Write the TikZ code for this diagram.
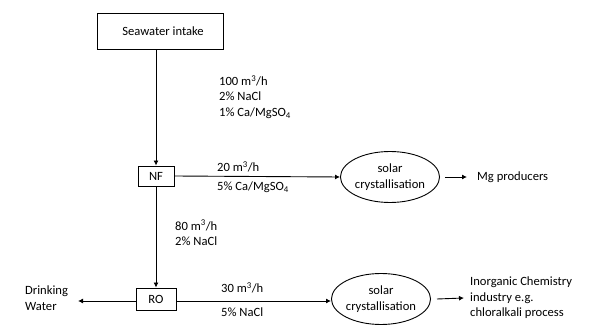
\documentclass[tikz,border=0pt]{standalone}
\usepackage{fontspec}
\setmainfont{Carlito}
\usetikzlibrary{arrows.meta,shapes.geometric}
\begin{document}
\begin{tikzpicture}[x=1pt,y=-1pt,
  every node/.style={font=\fontsize{12.6}{15.5}\selectfont},
  boxnode/.style={draw,line width=0.9pt,inner sep=0pt},
  ellnode/.style={draw,ellipse,line width=0.9pt,inner sep=0pt,minimum width=91pt,minimum height=51pt,align=center},
  lbl/.style={anchor=west,inner sep=0pt,align=left},
  conn/.style={line width=0.9pt,-{Latex[length=5pt,width=5pt]}}]
\useasboundingbox (0,0) rectangle (611,331);
\node[boxnode,minimum width=126pt,minimum height=36pt] (sw) at (160,31) {\hspace*{6pt}Seawater intake};
\node[boxnode,minimum width=36pt,minimum height=20pt] (nf) at (156,176) {NF};
\node[boxnode,minimum width=40pt,minimum height=22pt] (ro) at (156,299) {RO};
\node[ellnode] (e1) at (390,177) {solar\\crystallisation};
\node[ellnode] (e2) at (381,299) {solar\\crystallisation};
\node[lbl] (mg) at (477,177) {Mg producers};
\node[lbl] (inorg) at (470,298) {Inorganic Chemistry\\industry e.g.\\chloralkali process};
\node[lbl] (dw) at (25,298) {Drinking\\Water};
\node[lbl] (l1) at (219,97) {100 m\textsuperscript{3}/h\\2\% NaCl\\1\% Ca/MgSO\textsubscript{4}};
\node[lbl] (l2a) at (217,167) {20 m\textsuperscript{3}/h};
\node[lbl] (l2b) at (217,187) {5\% Ca/MgSO\textsubscript{4}};
\node[lbl] (l3) at (175,233) {80 m\textsuperscript{3}/h\\2\% NaCl};
\node[lbl] (l4a) at (221,288) {30 m\textsuperscript{3}/h};
\node[lbl] (l4b) at (221,312) {5\% NaCl};
\coordinate (dwend) at (78,301);
\draw[conn] (sw.south -| nf.center) -- (nf.north);
\draw[conn] (nf.east) -- (e1.west);
\draw[conn] ([xshift=5pt]e1.east) -- ([xshift=-10pt]mg.west);
\draw[conn] (nf.south) -- (ro.north);
\draw[conn] (ro.west |- dwend) -- (dwend);
\draw[conn] (ro.east |- dwend) -- (e2.west |- dwend);
\draw[conn] ([xshift=6pt]e2.east) -- ([xshift=-6pt]inorg.west);
\end{tikzpicture}
\end{document}
